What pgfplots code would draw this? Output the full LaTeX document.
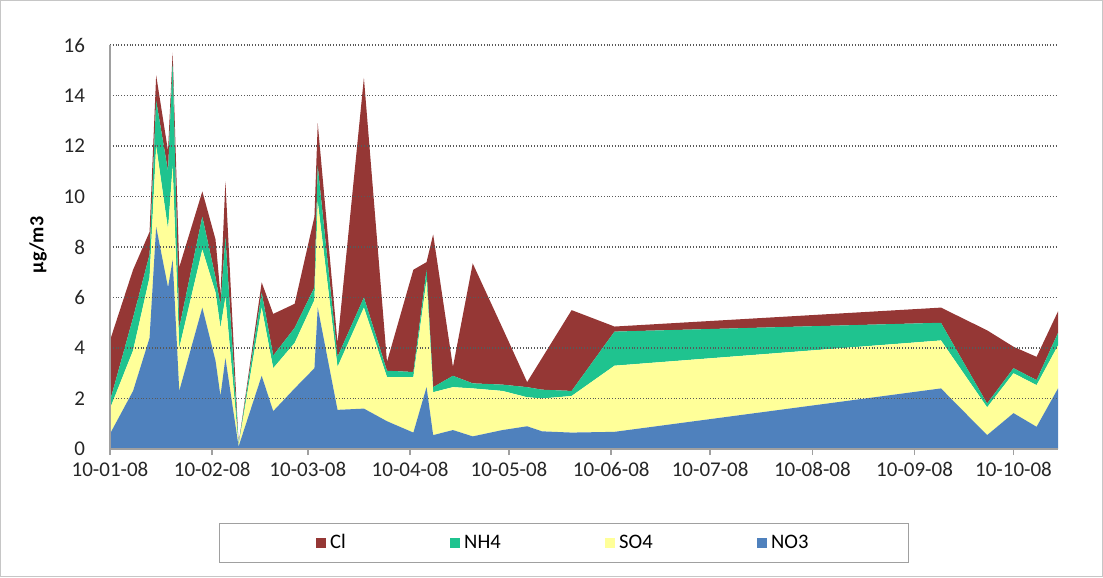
\documentclass[border=0pt]{standalone}
\usepackage{fontspec}
\setmainfont{Carlito}
\usepackage{pgfplots}
\usepackage{pgfplotstable}
\pgfplotsset{compat=1.18}
\definecolor{clc}{HTML}{953735}
\definecolor{nhc}{HTML}{1FC38F}
\definecolor{soc}{HTML}{FFFF99}
\definecolor{noc}{HTML}{4F81BD}
\definecolor{axc}{HTML}{A0A0A0}
\pgfplotstableread{
day NO3 SO4 NH4 Cl
0 0.6 1.0 0.3 2.4
7 2.3 1.6 1.3 1.9
12 4.4 2.4 0.9 0.9
14 8.8 3.2 1.8 1.0
17.6 6.4 2.3 2.3 0.8
19 7.5 3.7 4.1 0.4
21 2.3 1.7 0.8 2.4
28 5.6 2.3 1.3 1.0
32 3.5 2.7 0.6 1.5
33.5 2.1 2.7 0.9 0.4
35 3.6 2.4 2.4 2.2
39 0.1 0.05 0.03 0.02
46 2.9 2.7 0.6 0.4
49.5 1.5 1.7 0.5 1.65
56 2.4 1.8 0.6 0.95
62 3.2 2.7 0.5 2.8
63 5.6 4.2 1.4 1.7
69 1.55 1.7 0.4 0.55
77 1.6 4.0 0.4 8.7
84 1.1 1.75 0.25 0.35
92 0.65 2.2 0.2 4.05
96 2.45 4.25 0.4 0.3
98 0.55 1.7 0.2 6.05
104 0.75 1.7 0.45 0.35
110 0.5 1.9 0.2 4.75
119 0.75 1.55 0.25 2.25
126.5 0.9 1.15 0.4 0.2
131 0.7 1.3 0.35 1.25
140 0.65 1.45 0.2 3.2
153 0.68 2.62 1.35 0.2
252 2.4 1.9 0.7 0.6
266 0.55 1.1 0.15 2.9
274 1.42 1.58 0.2 0.85
281 0.88 1.65 0.2 0.92
287.5 2.4 1.7 0.5 0.85
}\data
\begin{document}
\begin{tikzpicture}[x=1bp,y=1bp]
\useasboundingbox (-55,224.5) rectangle (496.5,-64);
\draw[gray!45, line width=0.6bp] (-54.6,224.1) rectangle (496.1,-63.6);
\begin{axis}[
  at={(0,0)}, anchor=south west,
  scale only axis, width=474bp, height=202bp,
  xmin=0, xmax=287.5, ymin=0, ymax=16,
  stack plots=y, area style,
  axis lines*=left,
  axis line style={axc, line width=0.8bp},
  xtick={0,31,60,91,121,152,182,213,244,274},
  xticklabels={10-01-08,10-02-08,10-03-08,10-04-08,10-05-08,10-06-08,10-07-08,10-08-08,10-09-08,10-10-08},
  ytick={0,2,...,16},
  tick align=outside,
  major tick length=3bp,
  xtick style={axc, line width=0.8bp},
  ytick style={draw=none},
  ymajorgrids,
  grid style={densely dotted, black!65, line width=0.55bp},
  /pgf/number format/assume math mode=true,
  ticklabel style={font=\fontsize{10.5bp}{12bp}\selectfont, text=black!85},
  yticklabel style={xshift=-6bp},
  xticklabel style={yshift=0bp},
  ylabel={\bfseries µg/m3},
  ylabel style={at={(axis description cs:-0.076,0.505)}, anchor=center, font=\fontsize{10bp}{12bp}\selectfont},
  reverse legend,
  legend columns=4,
  legend style={at={(0.479,-0.233)}, anchor=center, draw=axc, line width=0.6bp,
    font=\fontsize{10.3bp}{12bp}\selectfont, inner xsep=48bp, inner ysep=3.5bp,
    /tikz/every even column/.append style={column sep=50bp}},
  legend image code/.code={\fill[#1] (0bp,-2.6bp) rectangle (5.2bp,2.6bp);},
]
\addplot[fill=noc, draw=none] table[x=day,y=NO3]{\data} \closedcycle;
\addplot[fill=soc, draw=none] table[x=day,y=SO4]{\data} \closedcycle;
\addplot[fill=nhc, draw=none] table[x=day,y=NH4]{\data} \closedcycle;
\addplot[fill=clc, draw=none] table[x=day,y=Cl]{\data} \closedcycle;
\legend{NO3,SO4,NH4,Cl}
\end{axis}
\end{tikzpicture}
\end{document}
